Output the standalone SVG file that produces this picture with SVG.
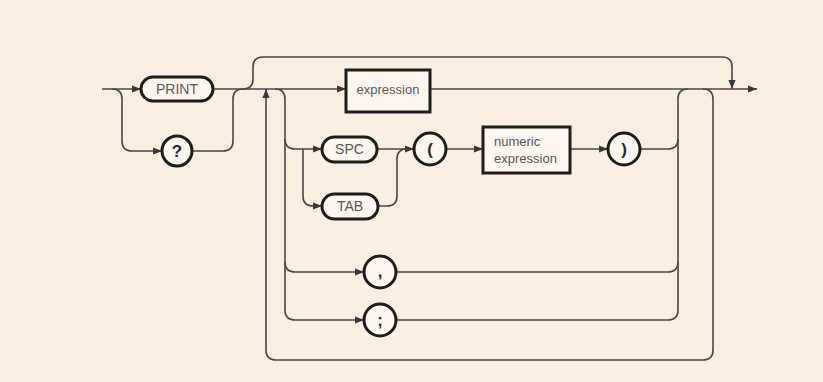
<svg xmlns="http://www.w3.org/2000/svg" width="823" height="382" viewBox="0 0 823 382">
<defs>
<marker id="arr" viewBox="0 0 10 10" refX="10" refY="5" markerWidth="9" markerHeight="9" markerUnits="userSpaceOnUse" orient="auto">
<path d="M0,1 L10,5 L0,9 Z" fill="#3a3835"/>
</marker>
<style>
.ln{fill:none;stroke:#4a4743;stroke-width:1.6}
.nd{fill:#fdf7f0;stroke:#1e1c1a;stroke-width:3}
.t{font-family:"Liberation Sans",Arial,sans-serif;font-size:14px;fill:#5a5855;text-anchor:middle}
.s{font-family:"Liberation Sans",Arial,sans-serif;font-size:17px;font-weight:bold;fill:#2a2826;text-anchor:middle}
</style>
</defs>
<rect width="823" height="382" fill="#fbefe2"/>
<g id="connectors">
<path class="ln" d="M102 89 L141 89" marker-end="url(#arr)"/>
<path class="ln" d="M112 89 Q122 89 122 99 L122 141 Q122 151 132 151 L162 151" marker-end="url(#arr)"/>
<path class="ln" d="M192 151 L223 151 Q233 151 233 141 L233 99 Q233 89 243 89"/>
<path class="ln" d="M213 89 L346 89" marker-end="url(#arr)"/>
<path class="ln" d="M243 89 Q253 89 253 79 L253 67 Q253 57 263 57 L722 57 Q732 57 732 67 L732 89" marker-end="url(#arr)"/>
<path class="ln" d="M430 89 L757 89" marker-end="url(#arr)"/>
<path class="ln" d="M703 89 Q713 89 713 99 L713 350 Q713 360 703 360 L276 360 Q266 360 266 350 L266 89" marker-end="url(#arr)"/>
<path class="ln" d="M275 89 Q285 89 285 99 L285 310 Q285 320 295 320 L364 320" marker-end="url(#arr)"/>
<path class="ln" d="M285 139 Q285 149 295 149 L322 149" marker-end="url(#arr)"/>
<path class="ln" d="M285 262 Q285 272 295 272 L364 272" marker-end="url(#arr)"/>
<path class="ln" d="M303 149 L303 196 Q303 206 313 206 L322 206" marker-end="url(#arr)"/>
<path class="ln" d="M377 149 L414 149" marker-end="url(#arr)"/>
<path class="ln" d="M378 206 L387 206 Q397 206 397 196 L397 159 Q397 149 407 149"/>
<path class="ln" d="M446 149 L483 149" marker-end="url(#arr)"/>
<path class="ln" d="M570 149 L608 149" marker-end="url(#arr)"/>
<path class="ln" d="M640 149 L668 149 Q678 149 678 139"/>
<path class="ln" d="M396 272 L668 272 Q678 272 678 262"/>
<path class="ln" d="M396 320 L668 320 Q678 320 678 310 L678 99 Q678 89 688 89"/>
</g>
<g id="print"><rect class="nd" x="141" y="77" width="72" height="24" rx="12"/><text class="t" x="177" y="94">PRINT</text></g>
<g id="question"><circle class="nd" cx="177" cy="151" r="15"/><text class="s" x="177" y="157">?</text></g>
<g id="expression"><rect class="nd" x="346" y="70" width="84" height="42"/><text class="t" x="388" y="94" style="font-size:13px">expression</text></g>
<g id="spc"><rect class="nd" x="322" y="137" width="55" height="25" rx="12.5"/><text class="t" x="349.5" y="154">SPC</text></g>
<g id="tab"><rect class="nd" x="322" y="194" width="56" height="25" rx="12.5"/><text class="t" x="350" y="211">TAB</text></g>
<g id="lparen"><circle class="nd" cx="430" cy="149" r="16"/><text class="s" x="430" y="155">(</text></g>
<g id="numexpr"><rect class="nd" x="483" y="127" width="87" height="46"/><text class="t" x="494" y="146" style="text-anchor:start;font-size:13px">numeric</text><text class="t" x="494" y="163" style="text-anchor:start;font-size:13px">expression</text></g>
<g id="rparen"><circle class="nd" cx="624" cy="149" r="16"/><text class="s" x="624" y="155">)</text></g>
<g id="comma"><circle class="nd" cx="380" cy="272" r="16"/><text class="s" x="380" y="277">,</text></g>
<g id="semicolon"><circle class="nd" cx="380" cy="320" r="16"/><text class="s" x="380" y="326">;</text></g>
</svg>
